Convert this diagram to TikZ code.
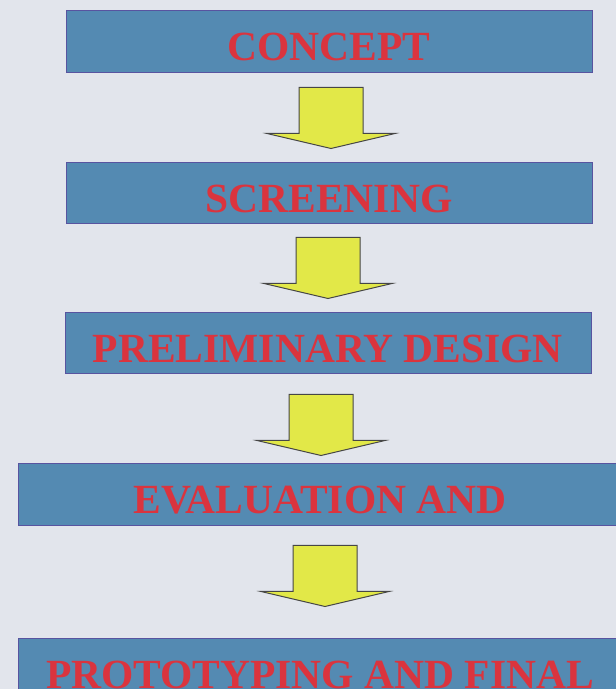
\documentclass[tikz,border=0pt]{standalone}
\usepackage{fontspec}
\setmainfont{Liberation Serif}
\usepackage{tikz}
\usetikzlibrary{positioning,calc}
\usepackage{xcolor}

\definecolor{pagebg}{RGB}{226,229,236}
\definecolor{boxfill}{RGB}{84,138,178}
\definecolor{boxline}{RGB}{88,84,160}
\definecolor{labelred}{RGB}{218,52,62}
\definecolor{arrowfill}{RGB}{226,232,72}
\definecolor{arrowline}{RGB}{70,70,70}

\tikzset{
  stage/.style={draw=boxline,line width=1pt,fill=boxfill,inner sep=0pt,
    minimum height=62pt,text height=38pt,text depth=0pt,
    text=labelred,font=\fontsize{41.5}{41.5}\selectfont\bfseries},
  downarr/.pic={
    \draw[draw=arrowline,line width=1pt,fill=arrowfill,line join=miter]
      (-32,0) -- (32,0) -- (32,-46) -- (64,-46) -- (0,-61) -- (-64,-46) -- (-32,-46) -- cycle;
  }
}

\begin{document}
\begin{tikzpicture}[x=1pt,y=1pt]
\fill[pagebg] (0,0) rectangle (616,689);
\clip (0,0) rectangle (616,689);
\node[stage,minimum width=526pt] (concept) at (329,647) {CONCEPT};
\node[stage,minimum width=526pt,minimum height=61pt] (screen) at (329,495.5) {SCREENING};
\node[stage,minimum width=526pt,minimum height=61pt] (prelim) at (328,345.5) {PRELIMINARY DESIGN};
\node[stage,minimum width=604pt] (evalu) at (320,194) {EVALUATION AND};
\node[stage,minimum width=604pt] (proto) at (320,19) {PROTOTYPING AND FINAL};
% block arrows between the stages
\pic at ($(concept.south)+(2,-14)$) {downarr};
\pic at ($(screen.south)+(-1,-13)$) {downarr};
\pic at ($(prelim.south)+(-7,-20)$) {downarr};
\pic at ($(evalu.south)+(5,-19)$) {downarr};
\end{tikzpicture}
\end{document}
